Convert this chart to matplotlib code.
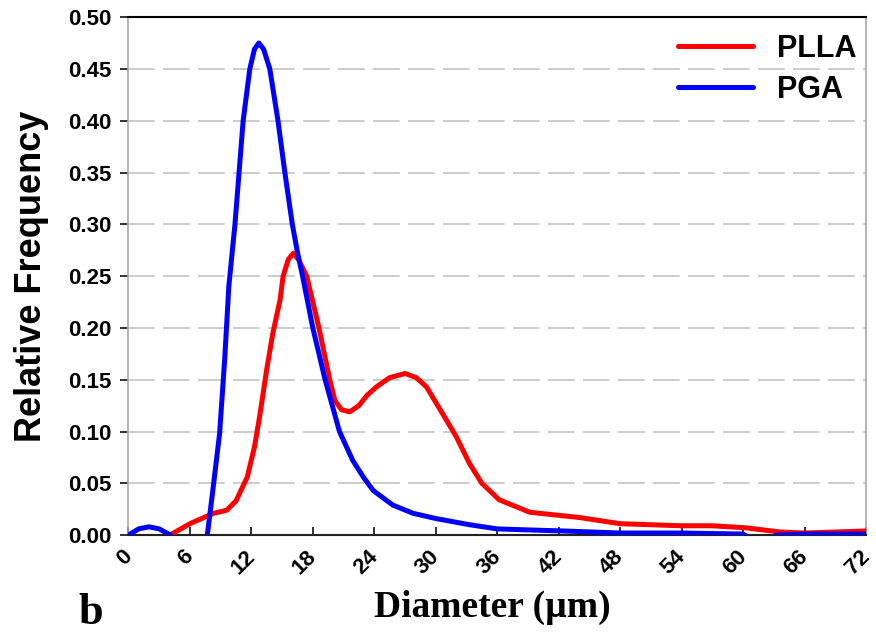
import matplotlib
matplotlib.use("Agg")
import matplotlib.pyplot as plt
from matplotlib.transforms import ScaledTranslation

# diameter distribution, read per fiber type (um, relative frequency)
pga_d = [0, 1, 2, 3, 4.1, 5, 6, 7, 7.7, 8.2, 8.9, 9.4, 9.8, 10.4, 10.8, 11.2,
         11.85, 12.3, 12.73, 13.2, 13.8, 14.6, 15.27, 16.0, 16.5, 17.0, 18.0,
         19.2, 20.6, 21.9, 23.0, 23.9, 25.8, 27.8, 30, 33.3, 36, 39, 42.4, 48,
         54, 60, 61, 62.5, 63.2, 66, 72]
pga_f = [0, 0.006, 0.008, 0.006, 0.0, -0.02, -0.03, -0.02, 0.0, 0.04, 0.098, 0.17,
         0.24, 0.30, 0.35, 0.40, 0.45, 0.469, 0.475, 0.469, 0.45, 0.40, 0.35,
         0.30, 0.273, 0.25, 0.20, 0.15, 0.10, 0.072, 0.055, 0.043, 0.029, 0.021,
         0.016, 0.010, 0.006, 0.005, 0.004, 0.002, 0.002, 0.001, -0.005, -0.005,
         0.0, 0.001, 0.001]

plla_d = [0, 2, 3, 4.06, 6, 8.3, 9.6, 10.5, 11.6, 12.3, 12.8, 13.5, 14.1, 14.8,
          15.1, 15.6, 16.1, 16.6, 17.4, 18.6, 19.65, 20.15, 20.8, 21.6, 22.5,
          23.3, 24.2, 25.5, 27.0, 28.1, 29.1, 30.5, 32.0, 33.3, 34.5, 36.2, 39.2,
          44, 48, 54, 57, 60.3, 63.6, 66, 72]
plla_f = [-0.03, -0.03, -0.015, 0.0, 0.011, 0.021, 0.024, 0.033, 0.056, 0.085,
          0.114, 0.16, 0.195, 0.227, 0.25, 0.266, 0.272, 0.266, 0.25, 0.20, 0.15,
          0.13, 0.121, 0.119, 0.125, 0.135, 0.143, 0.152, 0.156, 0.152, 0.143,
          0.12, 0.095, 0.069, 0.05, 0.034, 0.022, 0.017, 0.011, 0.009, 0.009,
          0.007, 0.003, 0.002, 0.004]

x_ticks = list(range(0, 73, 6))
y_ticks = [0.0, 0.05, 0.10, 0.15, 0.20, 0.25, 0.30, 0.35, 0.40, 0.45, 0.50]

fig = plt.figure(figsize=(8.76, 6.34), dpi=100)
ax = fig.add_axes([0.1466, 0.156, 0.842, 0.817])

for y in y_ticks[1:-1]:
    ax.axhline(y, color="#c4c4c4", lw=1.2, dashes=(16, 5), zorder=1)

ax.plot(plla_d, plla_f, color="#ff0000", lw=3.6, label="PLLA",
        solid_joinstyle="round", solid_capstyle="round", zorder=3)
ax.plot(pga_d, pga_f, color="#0000ff", lw=3.6, label="PGA",
        solid_joinstyle="round", solid_capstyle="round", zorder=3)

ax.set_xlim(0, 72)
ax.set_ylim(0, 0.50)
ax.set_xticks(x_ticks)
ax.set_yticks(y_ticks)
ax.tick_params(axis="y", direction="out", length=6, width=1.3, pad=6,
               color="#222222")
ax.tick_params(axis="x", direction="in", length=6, width=1.3, pad=8,
               color="#222222")
ax.set_yticklabels([f"{v:.2f}" for v in y_ticks], fontsize=16,
                   fontweight="bold", family="Liberation Sans")
ax.set_xticklabels([str(v) for v in x_ticks], fontsize=16, fontweight="bold",
                   family="Liberation Sans", rotation=45, ha="right",
                   va="top", rotation_mode="anchor")
# nudge the slanted labels left so the last one stays inside the figure
shift = ScaledTranslation(-5 / 72, 0, fig.dpi_scale_trans)
for tick in ax.xaxis.get_major_ticks():
    tick.label1.set_transform(tick.label1.get_transform() + shift)

ax.spines["top"].set_color("black")
ax.spines["top"].set_linewidth(1.5)
ax.spines["bottom"].set_color("#222222")
ax.spines["bottom"].set_linewidth(1.5)
ax.spines["left"].set_color("#a8a8a8")
ax.spines["left"].set_linewidth(1.2)
ax.spines["right"].set_color("#a8a8a8")
ax.spines["right"].set_linewidth(1.2)

ax.set_ylabel("Relative Frequency", fontsize=26, fontweight="bold",
              family="Liberation Sans", labelpad=14)
fig.text(0.562, 0.027, "Diameter (\u00b5m)", fontsize=27, fontweight="bold",
         family="Liberation Serif", ha="center", va="baseline")
fig.text(0.089, 0.015, "b", fontsize=32, fontweight="bold",
         family="Liberation Serif", ha="left", va="baseline")

leg = ax.legend(loc="upper right", bbox_to_anchor=(1.0, 0.985), frameon=False,
                handlelength=2.45, handletextpad=0.8, labelspacing=0.35,
                borderaxespad=0.0, borderpad=0.3,
                prop={"family": "Liberation Sans", "weight": "bold", "size": 22})

fig.savefig("out.png", dpi=100)
